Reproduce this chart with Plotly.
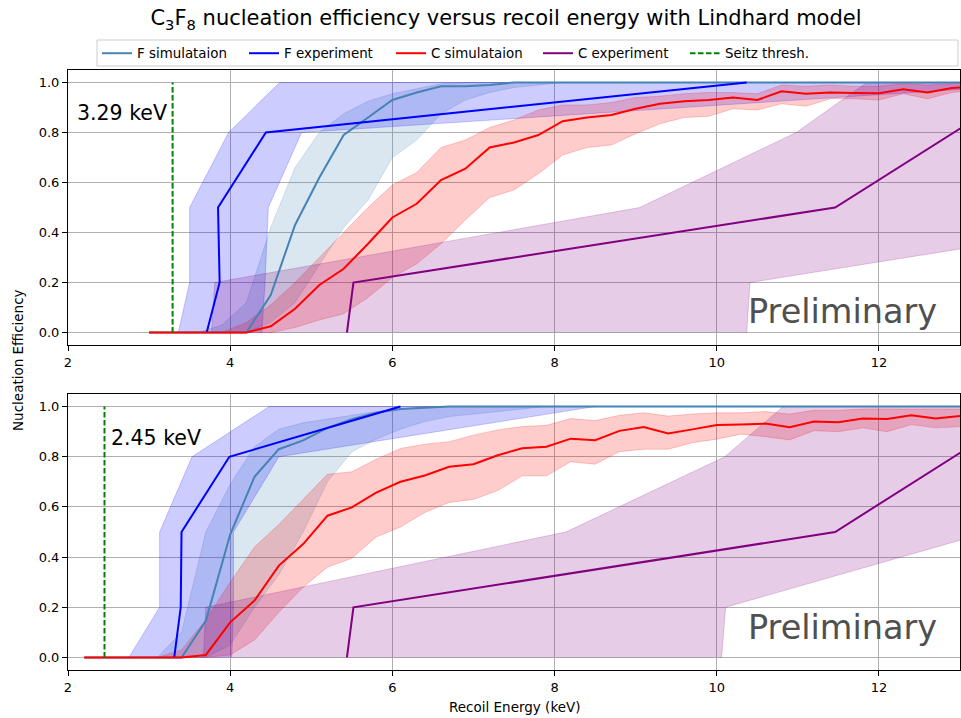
import plotly.graph_objects as go

# ---------------- DATA ----------------
# common energy grids (keV)
x_top = [3.0, 3.3, 3.6, 3.9, 4.2, 4.5, 4.8, 5.1, 5.4, 5.7, 6.0, 6.3, 6.6, 6.9, 7.2, 7.5, 7.8,
         8.1, 8.4, 8.7, 9.0, 9.3, 9.6, 9.9, 10.2, 10.5, 10.8, 11.1, 11.4, 11.7, 12.0, 12.3,
         12.6, 12.9, 13.2]
x_bot = [2.2, 2.5, 2.8, 3.1, 3.4, 3.7, 4.0, 4.3, 4.6, 4.9, 5.2, 5.5, 5.8, 6.1, 6.4, 6.7, 7.0,
         7.3, 7.6, 7.9, 8.2, 8.5, 8.8, 9.1, 9.4, 9.7, 10.0, 10.3, 10.6, 10.9, 11.2, 11.5,
         11.8, 12.1, 12.4, 12.7, 13.0, 13.3]

# --- top panel (Seitz 3.29 keV) ---
fsim_top = [0, 0, 0, 0, 0, 0.15, 0.43, 0.62, 0.79, 0.86, 0.93, 0.96, 0.985, 0.985, 0.99,
            1.0, 1.0, 1.0, 1.0, 1.0, 1.0, 1.0, 1.0, 1.0, 1.0, 1.0, 1.0, 1.0, 1.0, 1.0, 1.0,
            1.0, 1.0, 1.0, 1.0]
fsim_top_hi = [0, 0, 0, 0.03, 0.12, 0.42, 0.66, 0.80, 0.875, 0.925, 0.955, 0.975, 0.995,
               1.0, 1.0, 1.0, 1.0, 1.0, 1.0, 1.0, 1.0, 1.0, 1.0, 1.0, 1.0, 1.0, 1.0, 1.0,
               1.0, 1.0, 1.0, 1.0, 1.0, 1.0, 1.0]
fsim_top_lo = [0, 0, 0, 0, 0, 0.04, 0.12, 0.27, 0.42, 0.53, 0.70, 0.77, 0.875, 0.93, 0.96,
               0.98, 0.99, 1.0, 1.0, 1.0, 1.0, 1.0, 1.0, 1.0, 1.0, 1.0, 1.0, 1.0, 1.0, 1.0,
               1.0, 1.0, 1.0, 1.0, 1.0]
csim_top = [0, 0, 0, 0, 0, 0.025, 0.095, 0.19, 0.255, 0.355, 0.46, 0.515, 0.61, 0.655, 0.74,
            0.76, 0.79, 0.845, 0.86, 0.87, 0.895, 0.915, 0.925, 0.93, 0.94, 0.93, 0.965,
            0.955, 0.96, 0.958, 0.957, 0.973, 0.96, 0.978, 0.985]
csim_top_hi = [0, 0, 0, 0, 0.04, 0.11, 0.20, 0.30, 0.40, 0.50, 0.59, 0.64, 0.74, 0.77, 0.82,
               0.85, 0.89, 0.91, 0.91, 0.92, 0.94, 0.945, 0.955, 0.96, 0.96, 0.955, 0.99,
               0.985, 0.99, 0.985, 0.985, 0.995, 0.99, 0.995, 1.0]
csim_top_lo = [0, 0, 0, 0, 0, 0, 0.02, 0.05, 0.075, 0.14, 0.22, 0.275, 0.355, 0.45, 0.54,
               0.57, 0.635, 0.71, 0.74, 0.75, 0.795, 0.835, 0.86, 0.865, 0.895, 0.89, 0.915,
               0.905, 0.935, 0.935, 0.93, 0.955, 0.935, 0.96, 0.97]

# experimental points: efficiency levels with energy (and energy error band)
eff_levels = [0.0, 0.2, 0.5, 0.8, 1.0]
fexp_top = [3.71, 3.87, 3.85, 4.44, 10.37]
fexp_top_lo = [3.36, 3.50, 3.50, 3.98, 4.61]
fexp_top_hi = [4.39, 4.43, 4.47, 4.88, 14.3]
cexp_E = [5.44, 5.52, 11.46, 12.93, 13.9]
cexp_top_lo = [3.77, 3.81, 9.05, 10.98, 11.85]
cexp_top_hi = [10.37, 10.41, 16.2, 22.0, 26.0]

# --- bottom panel (Seitz 2.45 keV) ---
fsim_bot = [0, 0, 0, 0, 0, 0.146, 0.49, 0.72, 0.83, 0.865, 0.915, 0.95, 0.975, 0.99, 0.995,
            1.0, 1.0, 1.0, 1.0, 1.0, 1.0, 1.0, 1.0, 1.0, 1.0, 1.0, 1.0, 1.0, 1.0, 1.0, 1.0,
            1.0, 1.0, 1.0, 1.0, 1.0, 1.0, 1.0]
fsim_bot_hi = [0, 0, 0, 0, 0.10, 0.50, 0.69, 0.84, 0.91, 0.935, 0.95, 0.965, 0.98, 0.99,
               1.0, 1.0, 1.0, 1.0, 1.0, 1.0, 1.0, 1.0, 1.0, 1.0, 1.0, 1.0, 1.0, 1.0, 1.0,
               1.0, 1.0, 1.0, 1.0, 1.0, 1.0, 1.0, 1.0, 1.0]
fsim_bot_lo = [0, 0, 0, 0, 0, 0, 0.05, 0.20, 0.33, 0.50, 0.70, 0.82, 0.87, 0.91, 0.94, 0.96,
               0.97, 0.98, 0.99, 1.0, 1.0, 1.0, 1.0, 1.0, 1.0, 1.0, 1.0, 1.0, 1.0, 1.0, 1.0,
               1.0, 1.0, 1.0, 1.0, 1.0, 1.0, 1.0]
csim_bot = [0, 0, 0, 0, 0, 0.01, 0.14, 0.227, 0.366, 0.452, 0.565, 0.598, 0.657, 0.70,
            0.725, 0.76, 0.77, 0.806, 0.834, 0.84, 0.872, 0.866, 0.903, 0.918, 0.893, 0.909,
            0.926, 0.928, 0.932, 0.918, 0.94, 0.937, 0.952, 0.95, 0.965, 0.952, 0.962, 0.96]
csim_bot_hi = [0, 0, 0, 0, 0.03, 0.15, 0.30, 0.44, 0.53, 0.63, 0.73, 0.74, 0.79, 0.833,
               0.85, 0.86, 0.886, 0.907, 0.92, 0.925, 0.952, 0.944, 0.965, 0.975, 0.962,
               0.97, 0.975, 0.975, 0.98, 0.97, 0.985, 0.985, 0.99, 0.99, 0.99, 0.99, 0.99,
               0.99]
csim_bot_lo = [0, 0, 0, 0, 0, 0, 0.01, 0.07, 0.18, 0.28, 0.36, 0.395, 0.48, 0.52, 0.578,
               0.618, 0.63, 0.665, 0.724, 0.724, 0.78, 0.77, 0.82, 0.83, 0.83, 0.856, 0.87,
               0.89, 0.88, 0.867, 0.904, 0.90, 0.915, 0.90, 0.928, 0.915, 0.92, 0.92]
fexp_bot = [3.31, 3.39, 3.40, 3.99, 6.10]
fexp_bot_lo = [2.75, 3.13, 3.13, 3.53, 4.48]
fexp_bot_hi = [4.02, 4.04, 4.04, 4.60, 8.50]
cexp_bot_lo = [3.67, 3.70, 8.14, 10.10, 10.82]
cexp_bot_hi = [10.06, 10.11, 13.37, 16.6, 18.8]

seitz = [3.29, 2.45]
seitz_labels = ["3.29 keV", "2.45 keV"]
x_ticks = [2, 4, 6, 8, 10, 12]
y_ticks = [0.0, 0.2, 0.4, 0.6, 0.8, 1.0]

# ---------------- STYLE ----------------
C_FSIM = "#4682b4"
C_FEXP = "#0000ff"
C_CSIM = "#ff0000"
C_CEXP = "#800080"
C_SEITZ = "#008000"
FONT = "DejaVu Sans"


def rgba(hexc, a):
    h = hexc.lstrip("#")
    r, g, b = int(h[0:2], 16), int(h[2:4], 16), int(h[4:6], 16)
    return f"rgba({r},{g},{b},{a})"


fig = go.Figure()


def band_x(xs, lo, hi, color, xa, ya):
    fig.add_trace(go.Scatter(
        x=list(xs) + list(xs)[::-1], y=list(hi) + list(lo)[::-1],
        fill="toself", fillcolor=rgba(color, 0.2), mode="lines",
        line=dict(color=rgba(color, 0.2), width=1), hoverinfo="skip",
        showlegend=False, xaxis=xa, yaxis=ya))


def band_y(ys, xlo, xhi, color, xa, ya):
    fig.add_trace(go.Scatter(
        x=list(xlo) + list(xhi)[::-1], y=list(ys) + list(ys)[::-1],
        fill="toself", fillcolor=rgba(color, 0.2), mode="lines",
        line=dict(color=rgba(color, 0.2), width=1), hoverinfo="skip",
        showlegend=False, xaxis=xa, yaxis=ya))


def line(xs, ys, color, name, xa, ya, show, dash="solid"):
    fig.add_trace(go.Scatter(
        x=xs, y=ys, mode="lines", name=name,
        line=dict(color=color, width=2, dash=dash),
        showlegend=show, xaxis=xa, yaxis=ya))


panels = [
    dict(xa="x", ya="y", xg=x_top, fsim=fsim_top, fhi=fsim_top_hi, flo=fsim_top_lo,
         csim=csim_top, chi=csim_top_hi, clo=csim_top_lo,
         fexp=fexp_top, fexlo=fexp_top_lo, fexhi=fexp_top_hi,
         cexlo=cexp_top_lo, cexhi=cexp_top_hi, show=True),
    dict(xa="x2", ya="y2", xg=x_bot, fsim=fsim_bot, fhi=fsim_bot_hi, flo=fsim_bot_lo,
         csim=csim_bot, chi=csim_bot_hi, clo=csim_bot_lo,
         fexp=fexp_bot, fexlo=fexp_bot_lo, fexhi=fexp_bot_hi,
         cexlo=cexp_bot_lo, cexhi=cexp_bot_hi, show=False),
]

for i, p in enumerate(panels):
    xa, ya = p["xa"], p["ya"]
    band_x(p["xg"], p["flo"], p["fhi"], C_FSIM, xa, ya)
    band_y(eff_levels, p["fexlo"], p["fexhi"], C_FEXP, xa, ya)
    band_x(p["xg"], p["clo"], p["chi"], C_CSIM, xa, ya)
    band_y(eff_levels, p["cexlo"], p["cexhi"], C_CEXP, xa, ya)
    line(p["xg"], p["fsim"], C_FSIM, "F simulataion", xa, ya, p["show"])
    line(p["fexp"], eff_levels, C_FEXP, "F experiment", xa, ya, p["show"])
    line(p["xg"], p["csim"], C_CSIM, "C simulataion", xa, ya, p["show"])
    line(cexp_E, eff_levels, C_CEXP, "C experiment", xa, ya, p["show"])
    line([seitz[i], seitz[i]], [0, 1], C_SEITZ, "Seitz thresh.", xa, ya, p["show"],
         dash="5.5px,2.5px")

axis_common = dict(range=[2, 13], tickvals=x_ticks, showgrid=True, gridcolor="#b0b0b0",
                   gridwidth=1, showline=True, linecolor="black", linewidth=1, mirror=True,
                   ticks="outside", ticklen=5, tickcolor="black", zeroline=False,
                   tickfont=dict(family=FONT, size=13, color="black"))
yaxis_common = dict(range=[-0.05, 1.05], tickvals=y_ticks, tickformat=".1f", showgrid=True,
                    gridcolor="#b0b0b0", gridwidth=1, showline=True, linecolor="black",
                    linewidth=1, mirror=True, ticks="outside", ticklen=5, tickcolor="black",
                    zeroline=False, tickfont=dict(family=FONT, size=13, color="black"))

W, H = 961, 718
ML, MR, MT, MB = 68, 1, 70, 48
PW, PH = W - ML - MR, H - MT - MB


def px2paper_x(px):
    return (px - ML) / PW


def px2paper_y(py):
    return 1 - (py - MT) / PH


fig.update_layout(
    width=W, height=H,
    margin=dict(l=ML, r=MR, t=MT, b=MB),
    paper_bgcolor="white", plot_bgcolor="white",
    font=dict(family=FONT, size=13, color="black"),
    xaxis=dict(axis_common, domain=[0, 1], anchor="y"),
    yaxis=dict(yaxis_common, domain=[px2paper_y(345), 1.0], anchor="x"),
    xaxis2=dict(axis_common, domain=[0, 1], anchor="y2"),
    yaxis2=dict(yaxis_common, domain=[0.0, px2paper_y(394)], anchor="x2"),
    title=dict(text="C<sub>3</sub>F<sub>8</sub> nucleation efficiency versus recoil energy with Lindhard model",
               x=506 / W, xref="container", xanchor="center",
               y=1 - 18 / H, yref="container", yanchor="middle",
               font=dict(family=FONT, size=21, color="black")),
    legend=dict(orientation="h", x=px2paper_x(97), xanchor="left", y=px2paper_y(38),
                yanchor="top", bgcolor="rgba(0,0,0,0)", borderwidth=0,
                font=dict(family=FONT, size=13.4, color="black"),
                entrywidth=102, entrywidthmode="pixels"),
    showlegend=True,
    shapes=[dict(type="rect", xref="paper", yref="paper",
                 x0=px2paper_x(97), x1=px2paper_x(958), y0=px2paper_y(66), y1=px2paper_y(40),
                 line=dict(color="#cccccc", width=1), fillcolor="rgba(0,0,0,0)",
                 layer="above")],
)

annotations = [
    dict(text=seitz_labels[0], x=3.25, y=0.88, xref="x", yref="y", xanchor="right",
         yanchor="middle", showarrow=False, font=dict(family=FONT, size=20.5, color="black")),
    dict(text=seitz_labels[1], x=2.5, y=0.875, xref="x2", yref="y2", xanchor="left",
         yanchor="middle", showarrow=False, font=dict(family=FONT, size=20.5, color="black")),
    dict(text="Preliminary", x=11.55, y=0.084, xref="x", yref="y", xanchor="center",
         yanchor="middle", showarrow=False, font=dict(family=FONT, size=33.5, color="#505050")),
    dict(text="Preliminary", x=11.55, y=0.12, xref="x2", yref="y2", xanchor="center",
         yanchor="middle", showarrow=False, font=dict(family=FONT, size=33.5, color="#505050")),
    dict(text="Nucleation Efficiency", x=px2paper_x(18), y=px2paper_y(360), xref="paper",
         yref="paper", xanchor="center", yanchor="middle", textangle=-90, showarrow=False,
         font=dict(family=FONT, size=13.5, color="black")),
    dict(text="Recoil Energy (keV)", x=px2paper_x(515), y=px2paper_y(707), xref="paper",
         yref="paper", xanchor="center", yanchor="middle", showarrow=False,
         font=dict(family=FONT, size=13.5, color="black")),
]
fig.update_layout(annotations=annotations)

fig.write_html("out.html",
               config={"displayModeBar": False},
               post_script="document.body.style.margin='0px';"
                           "document.body.style.padding='0px';"
                           "document.body.style.overflow='hidden';")
